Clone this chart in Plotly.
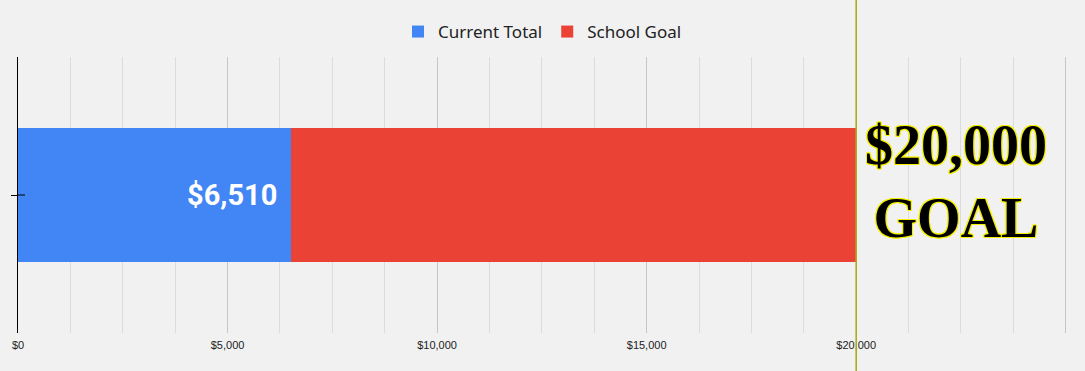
import plotly.graph_objects as go

category = ["Fundraiser"]
current_total = [6510]
school_goal = [20000]
tick_vals = [0, 5000, 10000, 15000, 20000, 25000]
tick_text = ["$0", "$5,000", "$10,000", "$15,000", "$20,000", ""]
goal_label = "$20,000<br>GOAL"

BLUE = "#4285f4"
RED = "#ea4335"
BG = "#f1f1f1"
OUTLINE = "#f4f000"

fig = go.Figure()
fig.add_trace(go.Bar(
    y=category, x=school_goal, orientation="h", name="School Goal",
    marker=dict(color=RED, line=dict(width=0)), width=0.482, legendrank=2,
    hoverinfo="skip",
))
fig.add_trace(go.Bar(
    y=category, x=current_total, orientation="h", name="Current Total",
    marker=dict(color=BLUE, line=dict(width=0)), width=0.482, legendrank=1,
    hoverinfo="skip",
))

# data label on the current total
fig.add_annotation(
    x=current_total[0], y=category[0], xref="x", yref="y",
    text=f"${current_total[0]:,}", showarrow=False,
    xanchor="right", yanchor="middle", xshift=-12, yshift=0,
    font=dict(family="Roboto", size=29, color="white", weight="bold"),
)

# goal label
shadow = ", ".join(f"{dx}px {dy}px 0 {OUTLINE}" for dx, dy in
                   [(1, 0), (-1, 0), (0, 1), (0, -1), (1, 1), (-1, -1), (1, -1), (-1, 1)])
fig.add_annotation(
    x=school_goal[0], y=category[0], xref="x", yref="y",
    text=goal_label, showarrow=False,
    xanchor="left", yanchor="middle", xshift=7, yshift=14,
    font=dict(family="Liberation Serif", size=56, color="black", weight="bold",
              shadow=shadow),
)

# goal marker line spanning the whole picture
fig.add_shape(
    type="line", xref="x", yref="paper",
    x0=school_goal[0], x1=school_goal[0], y0=-0.2, y1=1.3,
    line=dict(color="#acac1c", width=1.6),
    layer="above",
)

# inner half of the category tick on the value axis
fig.add_shape(
    type="line", xref="x", yref="y", xsizemode="pixel", xanchor=0,
    x0=0, x1=7, y0=0, y1=0,
    line=dict(color="black", width=1), layer="above",
)

fig.update_layout(
    width=1085, height=371,
    margin=dict(l=18, r=2, t=57, b=38),
    paper_bgcolor=BG, plot_bgcolor=BG,
    barmode="overlay",
    bargap=0,
    showlegend=True,
    legend=dict(
        orientation="h", xref="container", x=0.5, xanchor="center",
        yref="container", y=1 - 32 / 371, yanchor="middle",
        font=dict(family="Noto Sans", size=17, color="#222222"),
        bgcolor="rgba(0,0,0,0)", itemwidth=30,
        traceorder="normal",
    ),
    xaxis=dict(
        range=[0, 25412],
        tickvals=tick_vals, ticktext=tick_text,
        tickfont=dict(family="Liberation Sans", size=11, color="#222222"),
        showgrid=True, gridcolor="#c6c6c6", gridwidth=1,
        minor=dict(dtick=1250, showgrid=True, gridcolor="#dcdcdc", gridwidth=1),
        zeroline=False, showline=False, ticks="",
        ticklabelstandoff=4,
        fixedrange=True,
    ),
    yaxis=dict(
        range=[-0.5, 0.5],
        showticklabels=False, showgrid=False, zeroline=False,
        showline=True, linecolor="black", linewidth=1,
        ticks="outside", ticklen=6, tickcolor="black",
        fixedrange=True,
    ),
)

fig.write_html("out.html")
